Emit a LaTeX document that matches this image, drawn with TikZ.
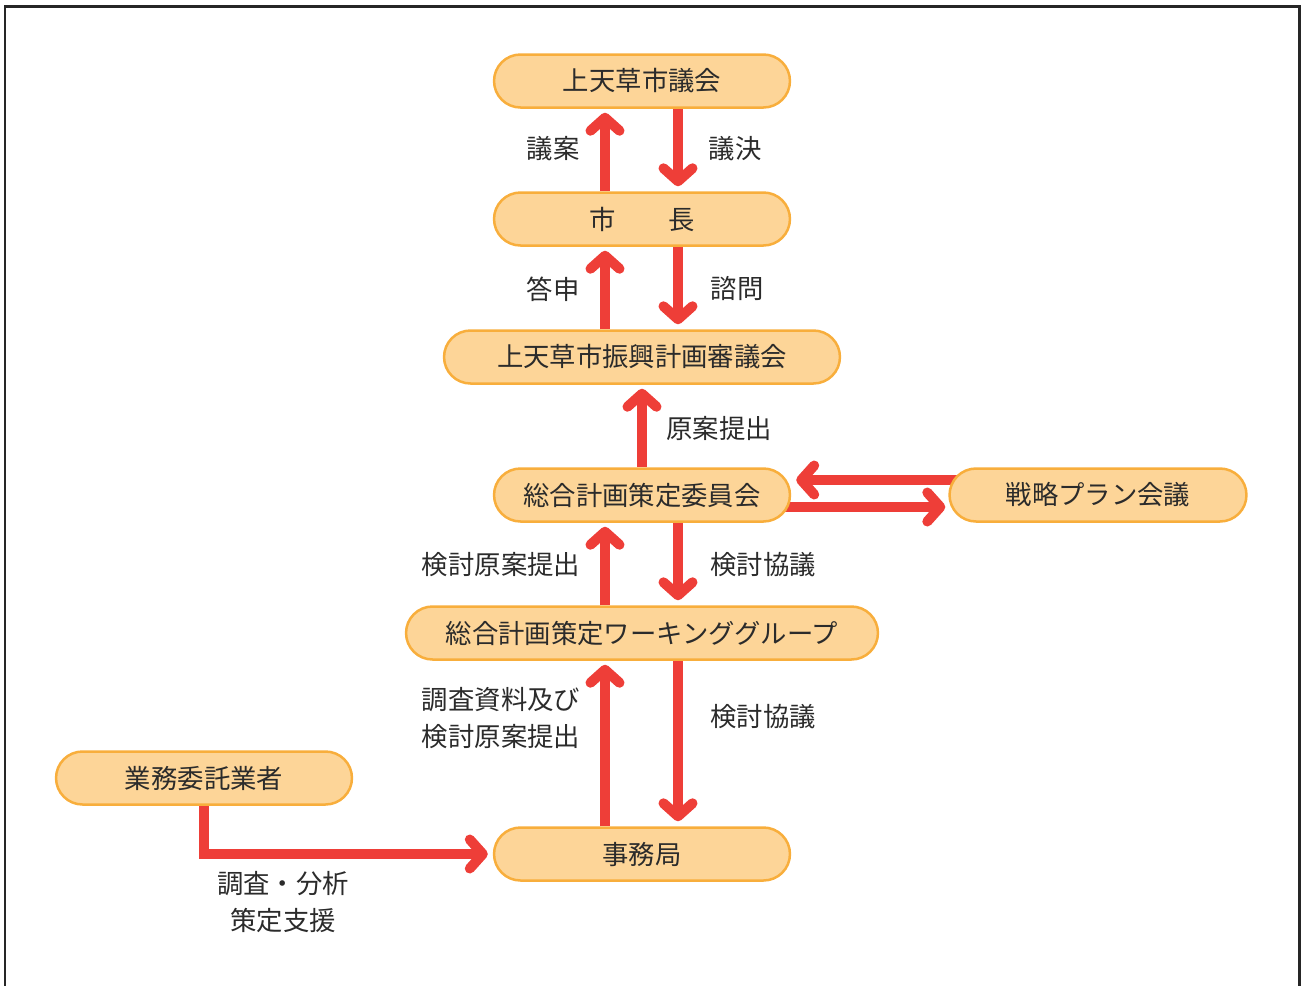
\documentclass[tikz,border=0pt]{standalone}
\usepackage{fontspec}
\setmainfont{Noto Sans CJK JP}
\usepackage{xcolor}
\usetikzlibrary{arrows.meta,backgrounds}
\definecolor{boxfill}{HTML}{FDD598}
\definecolor{boxline}{HTML}{F8AE3C}
\definecolor{flowred}{HTML}{EE3E38}
\definecolor{txt}{HTML}{2B2B2B}
\tikzset{
  box/.style={draw=boxline, fill=boxfill, line width=0.05cm, rounded corners=0.53cm,
    minimum width=5.92cm, minimum height=1.06cm, inner sep=0pt, text=txt,
    font=\fontsize{15}{17}\selectfont},
  flow/.style={draw=flowred, line width=0.2cm,
    -{Straight Barb[length=0.26cm, width=0.58cm, line cap=round, line join=round]}},
  lbl/.style={text=txt, align=center, inner sep=0pt, font=\fontsize{15}{21}\selectfont}
}

\begin{document}
\begin{tikzpicture}[x=0.02cm, y=-0.02cm]
    \useasboundingbox (0,0) rectangle (1302,985);
    \draw[black!85, line width=0.06cm] (5,990) -- (5,6) -- (1299,6) -- (1299,990);

    \node[box] (gikai) at (642,81) {上天草市議会};
    \node[box] (shicho) at (642,219) {市　　長};
    \node[box, minimum width=7.92cm] (shingikai) at (642,357) {上天草市振興計画審議会};
    \node[box] (iinkai) at (642,495) {総合計画策定委員会};
    \node[box, minimum width=5.94cm] (senryaku) at (1098,495) {戦略プラン会議};
    \node[box, minimum width=9.44cm] (wg) at (642,633) {総合計画策定ワーキンググループ};
    \node[box] (jimukyoku) at (642,854) {事務局};
    \node[box] (itaku) at (204,778) {業務委託業者};

    \coordinate (up) at (605,0);
    \coordinate (dn) at (678,0);
    \coordinate (mid) at (642,0);
    \coordinate (hi) at (0,480);
    \coordinate (lo) at (0,507);

    \begin{scope}[on background layer]
    \draw[flow, shorten >=0.08cm] (shicho.north -| up) -- (gikai.south -| up);
    \draw[flow, shorten >=0.1cm] (gikai.south -| dn) -- (shicho.north -| dn);
    \draw[flow, shorten >=0.08cm] (shingikai.north -| up) -- (shicho.south -| up);
    \draw[flow, shorten >=0.1cm] (shicho.south -| dn) -- (shingikai.north -| dn);
    \draw[flow, shorten >=0.08cm] (iinkai.north -| mid) -- (shingikai.south -| mid);
    \draw[flow, shorten >=0.1cm] (senryaku.center |- hi) -- (iinkai.east |- hi);
    \draw[flow, shorten >=0.06cm] (iinkai.center |- lo) -- (senryaku.west |- lo);
    \draw[flow, shorten >=0.08cm] (wg.north -| up) -- (iinkai.south -| up);
    \draw[flow, shorten >=0.1cm] (iinkai.south -| dn) -- (wg.north -| dn);
    \draw[flow, shorten >=0.08cm] (jimukyoku.north -| up) -- (wg.south -| up);
    \draw[flow, shorten >=0.1cm] (wg.south -| dn) -- (jimukyoku.north -| dn);
    \draw[flow, line join=miter, shorten >=0.1cm] (itaku.south) -- (itaku.south |- jimukyoku.west) -- (jimukyoku.west);
    \end{scope}

    \node[lbl] (l1) at (553,149) {議案};
    \node[lbl] (l2) at (735,149) {議決};
    \node[lbl] (l3) at (553,289) {答申};
    \node[lbl] (l4) at (737,289) {諮問};
    \node[lbl] (l5) at (719,428) {原案提出};
    \node[lbl] (l6) at (501,565) {検討原案提出};
    \node[lbl] (l7) at (763,565) {検討協議};
    \node[lbl, align=left] (l8) at (501,718) {調査資料及び\\検討原案提出};
    \node[lbl] (l9) at (763,717) {検討協議};
    \node[lbl] (l10) at (283,902) {調査・分析\\策定支援};
\end{tikzpicture}
\end{document}
